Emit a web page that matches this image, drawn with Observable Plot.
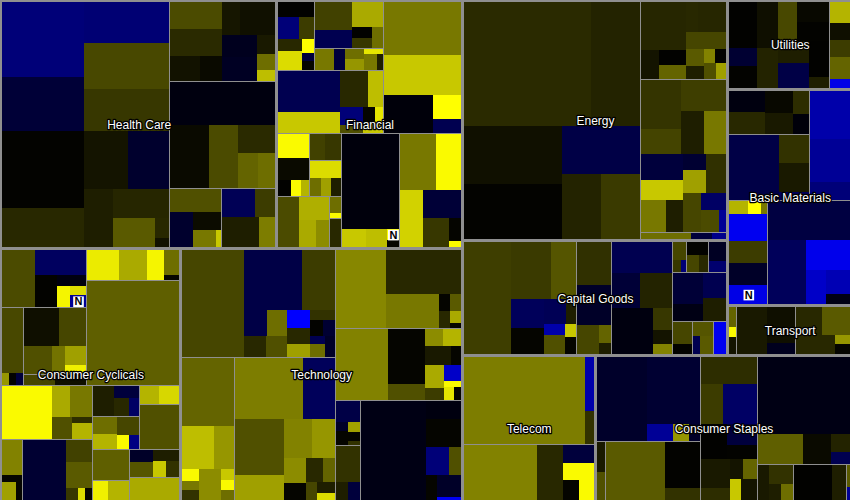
<!DOCTYPE html>
<html><head><meta charset="utf-8">
<script src="https://cdn.jsdelivr.net/npm/d3@7"></script>
<script src="https://cdn.jsdelivr.net/npm/@observablehq/plot@0.6"></script>
<style>body{margin:0;background:#fff}</style>
</head><body><div id="chart"></div>
<script>
// Each sector: list of industries; each industry: list of stocks [marketCap, change%, news]
const healthCare = [
  [[6213,-1.2],[4469,-0.55],[3478,-1.15],[3920,0.72],[3525,0.55],[6300,0.03],[3195,0.4],[2537,0.2],[2360,-0.45],[1716,0.3],[1617,0.38],[1221,0.9],[276,0.4],[120,0.18]],
  [[1400,0.75],[1456,0.42],[750,0.18],[540,0.1],[600,0.22],[1200,0.16],[780,-0.3],[870,-0.35],[350,0.25],[290,1.1],[200,1.9]],
  [[4650,-0.15],[2475,0.1],[1890,0.75],[1035,0.42],[720,1.0],[630,1.1]],
  [[1196,0.8],[828,-0.45],[506,0.12],[391,1.2],[92,2.0]],
  [[936,-0.85],[576,0.6],[1152,0.3],[492,1.25]]
];
const financial = [
  [[544,0.02],[480,-1.2],[345,0.6],[300,0.4],[448,2.2],[195,2.55],[100,-0.6],[115,0.05]],
  [[1088,0.65],[667,-0.8],[768,1.7],[228,0.02],[209,0.55],[230,1.1]],
  [[405,1.2],[243,-0.6],[216,1.1],[216,1.5],[108,2.3],[200,1.2],[100,0.3]],
  [[2600,-0.8],[1300,2.0],[1054,0.4],[558,1.9],[418,-1.2],[200,0.8],[195,0.05],[135,2.3],[200,2.0]],
  [[4160,1.2],[3120,2.0],[1887,-0.1],[667,2.55],[406,-0.8]],
  [[741,2.5],[702,0.1],[210,0.02],[182,2.5],[126,1.8]],
  [[444,0.65],[444,0.55]],
  [[576,2.2],[221,1.1],[195,1.6],[192,0.3]],
  [[1073,0.75],[696,1.75],[464,1.7],[377,1.4]],
  [[200,1.1],[60,2.5]],
  [[348,0.4]],
  [[5460,-0.12],[441,2.0],[378,1.9],[143,2.5,1],[77,0.05]],
  [[2035,1.2],[1430,2.5],[1323,2.1],[1085,-0.55],[768,0.55],[286,0.05],[66,2.5]]
];
const energy = [
  [[15872,0.42],[6076,0.35],[5684,0.16],[5488,0.03],[3807,-0.7],[2592,0.35],[2607,0.58]],
  [[2160,0.38],[525,0.2],[425,0.02],[400,1.0],[360,0.4],[858,0.38],[726,0.7],[300,0.9],[250,0.3],[160,1.3],[160,0.02],[200,0.8],[176,1.6]],
  [[1976,0.52],[986,0.68],[1404,0.62],[986,0.3],[952,1.2],[1092,-0.6],[850,2.0],[782,1.2],[560,0.3],[380,-0.5],[532,1.6],[800,0.48],[736,0.7],[459,-1.0],[405,0.75],[160,-1.5]],
  [[350,1.1],[150,-0.6],[100,-1.4]]
];
const utilities = [
  [[1334,0.02],[1032,0.15],[483,-0.5],[621,0.03],[888,0.35],[740,0.72],[660,0.08],[630,0.03],[714,0.3],[768,-0.7],[750,0.02],[210,0.3]],
  [[462,1.8],[374,0.15],[374,0.6],[462,1.0],[198,-2.3]]
];
const basicMaterials = [
  [[792,-0.15],[825,0.4],[660,0.08],[600,0.25],[390,0.45],[330,-0.1]],
  [[3368,-0.7],[864,0.5],[900,0.25],[252,-0.9]],
  [[1989,-1.7],[1785,-1.5],[765,-1.2]],
  [[240,1.8],[156,2.55],[84,1.2],[1080,-2.4],[840,0.6],[880,-0.4],[760,-2.3,1]],
  [[3260,-0.65],[2470,-0.9],[1332,-2.35],[720,-2.0],[575,-1.8],[260,-0.2]]
];
const transport = [
  [[160,1.0],[90,2.5],[140,0.2]],
  [[1502,0.25],[1092,0.15],[338,-0.3]],
  [[1276,0.4],[836,0.9],[286,0.4],[154,1.5],[154,0.05]]
];
const capitalGoods = [
  [[5400,0.62],[2294,0.58],[1440,0.85],[990,-0.9],[900,0.05],[552,-0.85],[252,0.3],[231,-1.7],[384,0.8],[144,2.0],[192,0.05]],
  [[1505,0.48],[1400,-0.4],[690,0.7],[225,1.0],[135,0.3]],
  [[1900,-0.8],[1000,-0.55],[1160,0.35],[2000,-0.15],[432,0.55],[270,0.2],[198,1.3]],
  [[256,0.7],[96,0.55],[64,-1.2]],
  [[300,0.03],[200,0.7],[172,0.4]],
  [[350,-0.35],[194,-1.1]],
  [[969,-0.55],[520,-0.2],[625,-0.8],[589,0.3]],
  [[450,0.7],[215,0.03]],
  [[280,0.85],[130,-0.8],[255,0.9]],
  [[455,-2.4]]
];
const telecom = [
  [[10800,1.25],[476,-1.7],[294,0.5]],
  [[4200,1.3],[1480,0.4],[592,-0.6],[525,2.5],[336,0.05],[315,2.5]]
];
const consumerStaples = [
  [[4288,-0.42],[3618,-0.5],[462,-1.5],[280,1.5],[196,-0.4]],
  [[260,0.25],[247,0.8]],
  [[3564,0.9],[1656,0.03],[432,0.5]],
  [[1496,0.45],[884,0.6],[1419,-1.0],[891,0.02],[651,-0.6],[420,0.03],[867,0.25],[357,0.45],[255,0.2],[285,1.0],[220,2.0],[348,0.2]],
  [[7213,-0.2],[1404,0.95],[858,0.1],[360,0.35],[225,-0.8]],
  [[420,0.25],[480,0.5],[200,0.3],[196,1.1]],
  [[1400,0.02],[488,0.3]],
  [[100,0.9],[60,-1.5]]
];
const consumerCyclicals = [
  [[1976,0.75],[1292,-0.95],[729,0.03],[336,-0.15],[286,2.45],[136,2.2],[198,-1.5,1]],
  [[1428,0.72],[88,1.5],[96,0.03],[88,-0.6]],
  [[1316,0.15],[1034,0.7],[828,0.8],[360,1.15],[425,1.6],[187,2.4]],
  [[350,0.7],[350,0.15]],
  [[1023,2.35],[899,1.7],[512,2.45],[390,1.1],[90,0.05]],
  [[9724,0.95]],
  [[2756,2.5],[560,1.7],[700,1.2],[459,0.8],[130,0.45],[320,1.8]],
  [[744,1.3],[144,0.05],[264,1.6],[120,0.05]],
  [[2650,-0.5],[570,0.65],[690,0.9],[150,0.55],[90,2.2],[90,0.05]],
  [[666,0.3],[306,-0.6],[288,0.4],[180,-1.0]],
  [[418,1.1],[380,1.8],[399,0.7],[171,2.5],[152,-1.3]],
  [[368,1.8],[368,2.15]],
  [[1792,0.8]],
  [[1152,0.95]],
  [[300,2.4],[456,1.8]],
  [[300,-0.4],[350,0.85],[300,0.3],[200,2.0],[218,0.5]],
  [[1152,1.7]]
];
const technology = [
  [[6745,0.7],[3515,-0.7],[1998,0.6],[580,-0.7],[522,1.1],[464,0.4],[441,0.8],[420,-2.55],[368,0.4],[288,1.6],[240,0.5],[220,0.03],[198,-0.5],[126,-0.8],[198,1.1],[207,-0.4]],
  [[3626,1.0],[1421,1.9],[870,1.5],[209,2.5],[171,1.2],[171,0.5],[690,1.4],[160,2.0],[135,2.5],[143,1.1]],
  [[4176,1.25],[1920,-0.9],[2736,0.8],[1240,1.6],[1120,1.3],[885,1.5],[572,1.4],[390,0.05],[407,0.4],[286,1.0],[198,0.7],[198,0.3],[132,2.2]],
  [[4004,1.35],[3311,0.4],[1809,1.2],[196,0.05],[182,0.9],[196,0.4],[130,1.7],[52,0.05]],
  [[3770,1.3],[2030,0.05],[588,0.8],[315,1.4],[315,1.8],[516,0.25],[180,0.05],[440,1.7],[220,0.6],[264,-2.0],[110,2.5],[132,2.3],[88,0.05]],
  [[540,-0.7],[120,-0.4],[180,0.05],[135,1.6],[120,0.05],[60,0.5]],
  [[918,0.5],[234,0.3],[234,-0.6]],
  [[6521,-0.2],[630,-0.15],[990,0.05],[650,-1.2],[330,0.8],[270,0.05],[520,-0.4],[75,-2.4]]
];

const sectors = [
  {name: "Health Care", industries: healthCare},
  {name: "Financial", industries: financial},
  {name: "Energy", industries: energy},
  {name: "Utilities", industries: utilities},
  {name: "Basic Materials", industries: basicMaterials},
  {name: "Transport", industries: transport},
  {name: "Capital Goods", industries: capitalGoods},
  {name: "Telecom", industries: telecom},
  {name: "Consumer Staples", industries: consumerStaples},
  {name: "Consumer Cyclicals", industries: consumerCyclicals},
  {name: "Technology", industries: technology}
];
// how the sectors cluster together on the map
const sectorClusters = [
  [["Health Care", "Financial"], ["Consumer Cyclicals", "Technology"]],
  [[["Energy", "Capital Goods"], ["Utilities", "Basic Materials", "Transport"]], ["Telecom", "Consumer Staples"]]
];

const W = 850, H = 500;
const byName = new Map(sectors.map(s => [s.name, s]));
function build(c) {
  if (typeof c === "string") {
    const s = byName.get(c);
    return {type: "sector", name: c, children: s.industries.map(ind => ({
      type: "industry",
      children: ind.map(([cap, change, news]) => ({type: "stock", cap, change, news: !!news}))
    }))};
  }
  return {type: "cluster", children: c.map(build)};
}
const root = d3.hierarchy({type: "cluster", children: sectorClusters.map(build)})
  .sum(d => d.type === "stock" ? d.cap : 0);

d3.treemap()
  .tile(d3.treemapBinary)
  .size([W, H])
  .paddingInner(n => n.data.type === "cluster" ? 3 : n.data.type === "sector" ? 1 : 0)
  .paddingTop(n => n.depth === 0 ? 2 : 0)
  .paddingLeft(n => n.depth === 0 ? 2 : 0)
  .paddingRight(0)
  .paddingBottom(0)(root);

const leaves = root.leaves();
const sectorNodes = root.descendants().filter(d => d.data.type === "sector");
const newsNodes = leaves.filter(d => d.data.news);
const cx = d => (d.x0 + d.x1) / 2, cy = d => (d.y0 + d.y1) / 2;

const chart = Plot.plot({
  width: W, height: H, margin: 0,
  x: {domain: [0, W], range: [0, W], axis: null},
  y: {domain: [0, H], range: [0, H], axis: null},
  color: {type: "linear", domain: [-2.55, 0, 2.55], range: ["#0000ff", "#000000", "#ffff00"], interpolate: "rgb", clamp: true},
  style: {background: "#8f8f8f"},
  marks: [
    Plot.rect(leaves, {x1: d => d.x0, x2: d => d.x1, y1: d => d.y0, y2: d => d.y1, fill: d => d.data.change, shapeRendering: "crispEdges"}),
    Plot.dot(newsNodes, {x: cx, y: cy, symbol: "square", r: 6, fill: "white"}),
    Plot.text(newsNodes, {x: cx, y: cy, text: () => "N", fill: "black", fontSize: 11, fontWeight: "bold", fontFamily: "Liberation Sans, Arial, sans-serif"}),
    Plot.text(sectorNodes, {x: cx, y: cy, text: d => d.data.name, fill: "white", stroke: "black", strokeWidth: 2.5, fontSize: 12, fontFamily: "Liberation Sans, Arial, sans-serif"})
  ]
});
document.getElementById("chart").appendChild(chart);
</script>
</body></html>
